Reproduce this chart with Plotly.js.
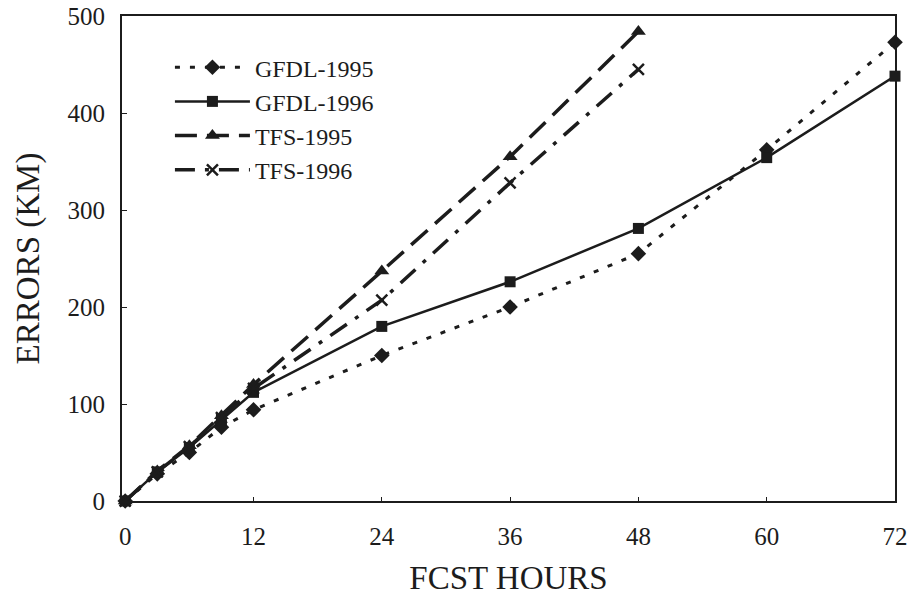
<!DOCTYPE html>
<html>
<head>
<meta charset="utf-8">
<script src="https://cdn.plot.ly/plotly-3.0.1.min.js"></script>
<style>html,body{margin:0;padding:0;background:#fff;}#chart{width:916px;height:599px;}</style>
</head>
<body>
<div id="chart"></div>
<script>
const hours = [0, 3, 6, 9, 12, 24, 36, 48, 60, 72];
const hoursTFS = [0, 3, 6, 9, 12, 24, 36, 48];
const gfdl1995 = [0, 28, 50, 76, 94, 150, 200, 255, 362, 473];
const gfdl1996 = [0, 30, 55, 84, 112, 180, 226, 281, 354, 438];
const tfs1995 = [0, 31, 57, 88, 120, 237, 355, 484];
const tfs1996 = [0, 30, 56, 86, 116, 207, 328, 445];
const xTicks = [0, 12, 24, 36, 48, 60, 72];
const yTicks = [0, 100, 200, 300, 400, 500];

const ink = '#1c1c1c';
const font = 'Liberation Serif, Times New Roman, serif';

const traces = [
  {x: hours, y: gfdl1995, name: 'GFDL-1995', mode: 'lines+markers', cliponaxis: false,
   line: {color: ink, width: 3, dash: '5px,10px'},
   marker: {symbol: 'diamond', size: 12, color: ink}},
  {x: hours, y: gfdl1996, name: 'GFDL-1996', mode: 'lines+markers', cliponaxis: false,
   line: {color: ink, width: 2.5},
   marker: {symbol: 'square', size: 11, color: ink}},
  {x: hoursTFS, y: tfs1995, name: 'TFS-1995', mode: 'lines+markers', cliponaxis: false,
   line: {color: ink, width: 3.5, dash: '22px,10px'},
   marker: {symbol: 'triangle-up', size: 13, color: ink}},
  {x: hoursTFS, y: tfs1996, name: 'TFS-1996', mode: 'lines+markers', cliponaxis: false,
   line: {color: ink, width: 3.5, dash: '20px,10px,4px,10px'},
   marker: {symbol: 'x-thin-open', size: 11, color: ink, line: {color: ink, width: 2.5}}}
];

const layout = {
  width: 916, height: 599,
  margin: {l: 122, r: 21, t: 16, b: 98},
  paper_bgcolor: '#fff', plot_bgcolor: '#fff',
  font: {family: font, color: ink, size: 24},
  showlegend: true,
  legend: {x: 0.062, y: 0.94, xanchor: 'left', yanchor: 'top',
           bgcolor: 'rgba(0,0,0,0)', font: {family: font, size: 24, color: ink},
           tracegroupgap: 0, itemwidth: 75},
  xaxis: {
    range: [-0.3, 72], tickvals: xTicks, ticktext: xTicks.map(String),
    showgrid: false, zeroline: false, showline: true, linecolor: ink, linewidth: 2, mirror: true,
    ticks: 'inside', ticklen: 4, tickcolor: ink, tickwidth: 1,
    ticklabelstandoff: 12,
    tickfont: {family: font, size: 25, color: ink},
    title: {text: 'FCST HOURS', font: {family: font, size: 33, color: ink}, standoff: 17}
  },
  yaxis: {
    range: [0, 500], tickvals: yTicks, ticktext: yTicks.map(String),
    showgrid: false, zeroline: false, showline: true, linecolor: ink, linewidth: 2, mirror: true,
    ticks: 'inside', ticklen: 5, tickcolor: ink, tickwidth: 1,
    ticklabelstandoff: 10,
    tickfont: {family: font, size: 25, color: ink},
    title: {text: 'ERRORS (KM)', font: {family: font, size: 33, color: ink}, standoff: 18}
  }
};

Plotly.newPlot('chart', traces, layout, {staticPlot: true, displayModeBar: false});
</script>
</body>
</html>
